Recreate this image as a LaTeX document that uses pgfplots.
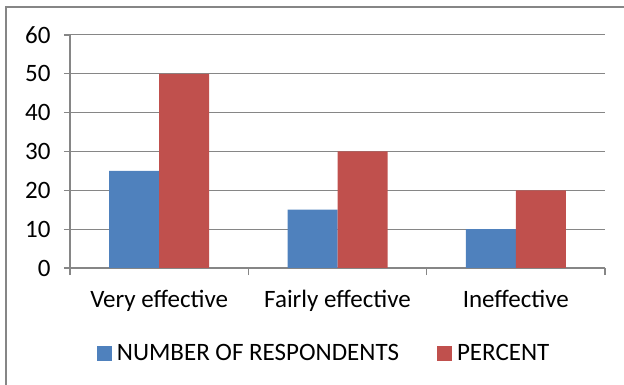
\documentclass[border=0pt]{standalone}
\usepackage{pgfplots}
\pgfplotsset{compat=1.18}
\usepackage{fontspec}
\setmainfont{Carlito}
\definecolor{barblue}{HTML}{4F81BD}
\definecolor{barred}{HTML}{C0504D}
\definecolor{axisgray}{HTML}{868686}
\begin{document}
\begin{tikzpicture}
\useasboundingbox (0,0) rectangle (624bp,385bp);
% chart frame
\draw[axisgray, line width=1.2bp] (6bp,0) -- (6bp,378bp) -- (624bp,378bp);
\begin{axis}[
  at={(70bp,117bp)}, anchor=south west,
  scale only axis, width=535bp, height=233bp,
  ybar=0pt, bar width=50bp,
  xmin=-0.5, xmax=2.5, ymin=0, ymax=60,
  xtick={0,1,2},
  xticklabels={Very effective, Fairly effective, Ineffective},
  major x tick style={draw=none},
  minor xtick={-0.5,0.5,1.5,2.5},
  ytick={0,10,...,60},
  tick align=outside,
  major tick length=6bp, minor tick length=7bp,
  axis x line*=bottom, axis y line*=left,
  axis line style={axisgray, line width=1.2bp},
  tick style={axisgray, line width=1.2bp},
  ymajorgrids, grid style={axisgray, line width=1bp},
  font=\fontsize{25bp}{30bp}\selectfont,
  /pgf/number format/assume math mode=true,
  yticklabel style={xshift=-10bp},
  xticklabel style={yshift=-13bp},
  legend style={at={(0.475,-0.365)}, anchor=center, draw=none,
    legend columns=2,
    /tikz/every even column/.append style={column sep=36bp}},
  legend image code/.code={\fill[#1] (0bp,-7.5bp) rectangle (15bp,7.5bp);
    \path (18bp,0bp);},
]
\addplot[fill=barblue, draw=none] coordinates {(0,25) (1,15) (2,10)};
\addplot[fill=barred, draw=none] coordinates {(0,50) (1,30) (2,20)};
\legend{NUMBER OF RESPONDENTS, PERCENT}
\end{axis}
\end{tikzpicture}
\end{document}
